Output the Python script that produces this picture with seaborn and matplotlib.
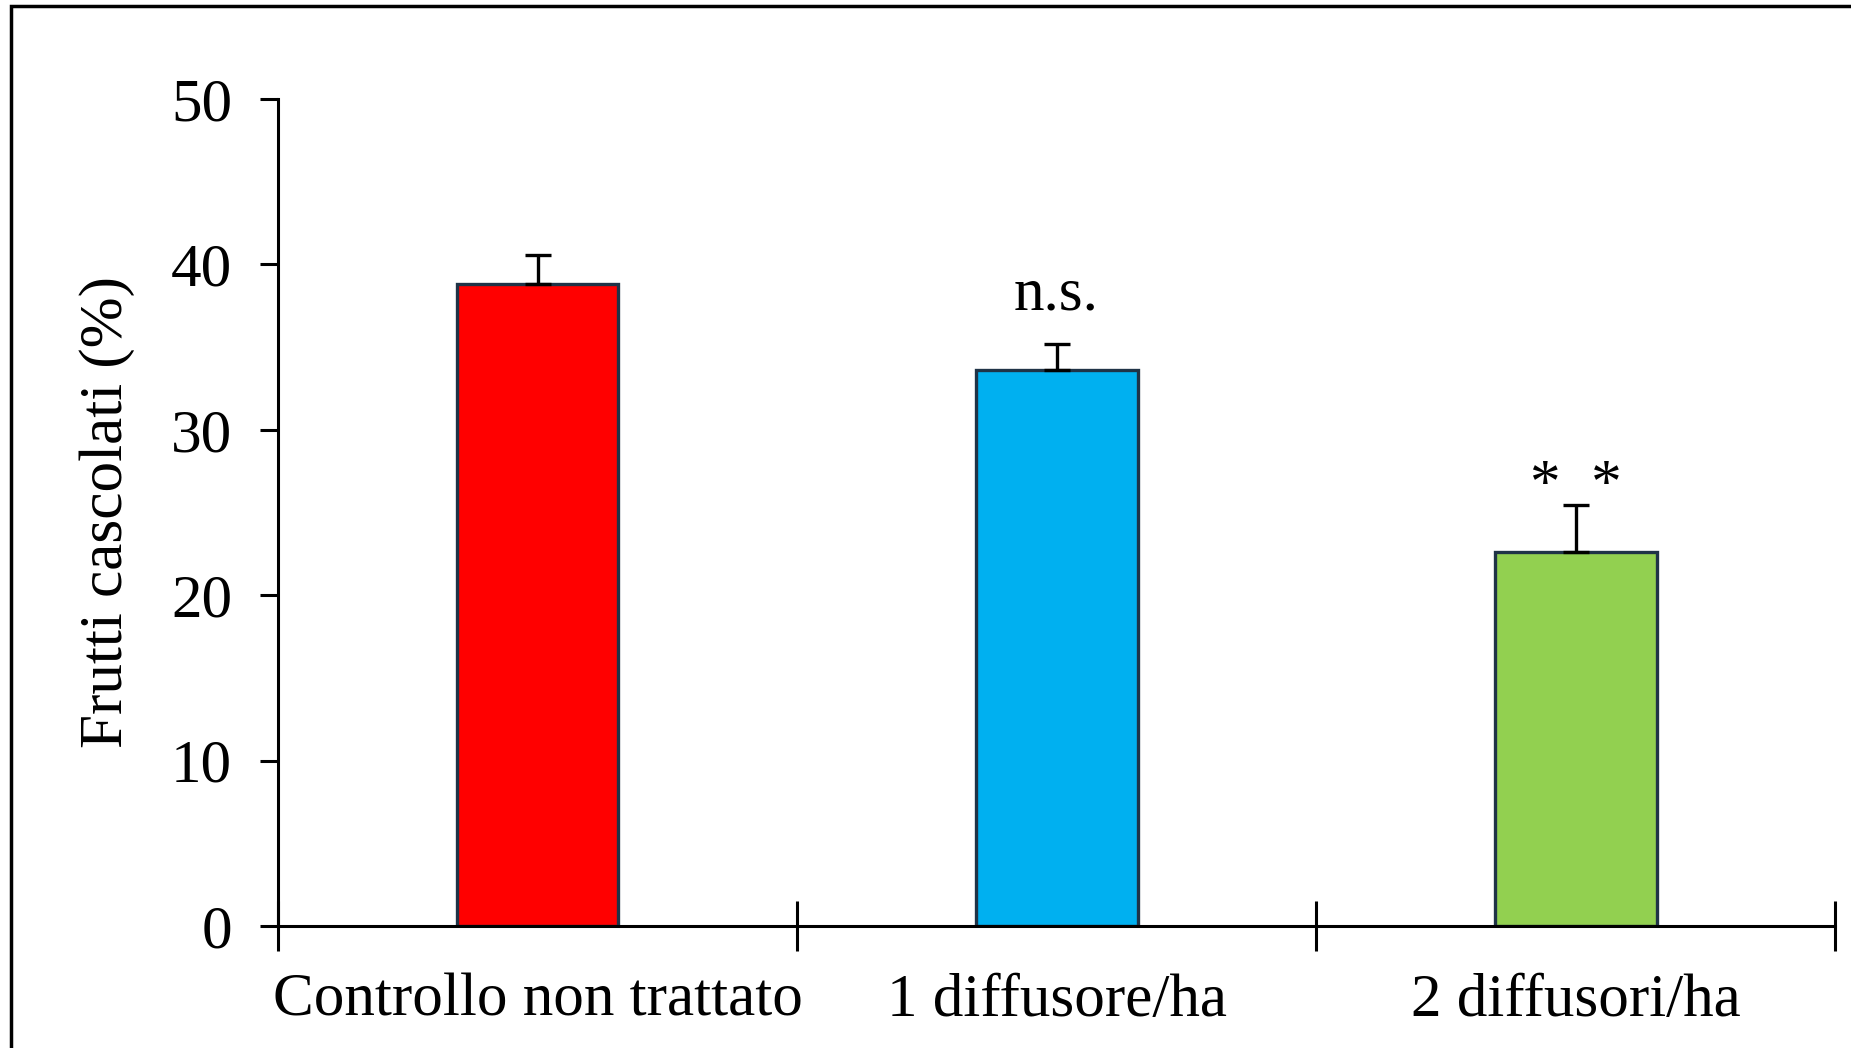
import matplotlib
matplotlib.use("Agg")
import matplotlib.pyplot as plt
from matplotlib.patches import Rectangle
import seaborn as sns
import pandas as pd

# Data
categories = ["Controllo non trattato", "1 diffusore/ha", "2 diffusori/ha"]
values = [38.8, 33.6, 22.6]
errors = [1.8, 1.6, 2.85]
annotations = ["", "n.s.", "*  *"]
bar_colors = ["#FF0000", "#00B0F0", "#92D050"]
y_ticks = [0, 10, 20, 30, 40, 50]

# Baseline offset (points above the error cap) for each significance label
label_offsets = {"n.s.": 25, "*  *": 3}

sns.set_theme(style="white")
plt.rcParams["font.family"] = ["Liberation Serif", "DejaVu Serif"]
plt.rcParams["text.color"] = "black"
plt.rcParams["xtick.color"] = "black"
plt.rcParams["ytick.color"] = "black"
plt.rcParams["axes.labelcolor"] = "black"

fig = plt.figure(figsize=(18.51, 10.48), dpi=100)
ax = fig.add_axes([0.1502, 0.1164, 0.8412, 0.7891])

df = pd.DataFrame({"cat": categories, "val": values})
sns.barplot(data=df, x="cat", y="val", hue="cat", palette=bar_colors,
            errorbar=None, width=0.312, legend=False, ax=ax,
            edgecolor="#1F3347", linewidth=2.4, saturation=1)

ax.errorbar(range(len(values)), values, yerr=[[0] * len(values), errors],
            fmt="none", ecolor="black", elinewidth=2.4, capsize=9.5, capthick=2.4)

for i, (v, e, t) in enumerate(zip(values, errors, annotations)):
    if t:
        ax.annotate(t, (i, v + e), xytext=(0, label_offsets[t]),
                    textcoords="offset points", ha="center", va="baseline",
                    fontsize=44, color="black")

ax.set_xlim(-0.5, 2.5)
ax.set_ylim(0, 50)
ax.set_yticks(y_ticks)
ax.set_yticklabels([str(t) for t in y_ticks], fontsize=44)
ax.tick_params(axis="y", direction="out", length=13, width=2.2, pad=20, left=True)

ax.set_xticks(range(len(categories)))
ax.set_xticklabels(categories, fontsize=44)
ax.set_xticks([-0.5, 0.5, 1.5, 2.5], minor=True)
ax.tick_params(axis="x", which="major", length=0, pad=34)
ax.tick_params(axis="x", which="minor", direction="inout", length=36, width=2.2, bottom=True)

ax.set_xlabel("")
ax.set_ylabel("Frutti cascolati (%)", fontsize=44, labelpad=26)

for side in ["top", "right"]:
    ax.spines[side].set_visible(False)
for side in ["left", "bottom"]:
    ax.spines[side].set_visible(True)
    ax.spines[side].set_color("black")
    ax.spines[side].set_linewidth(2.2)

# Outer frame (only top and left edges fall inside the canvas)
fig.patches.append(Rectangle((11 / 1851, -0.1), 1.2, 1 - 6 / 1048 + 0.1,
                             transform=fig.transFigure, fill=False,
                             edgecolor="black", linewidth=2.5))

fig.savefig("out.png", dpi=100, facecolor="white")
